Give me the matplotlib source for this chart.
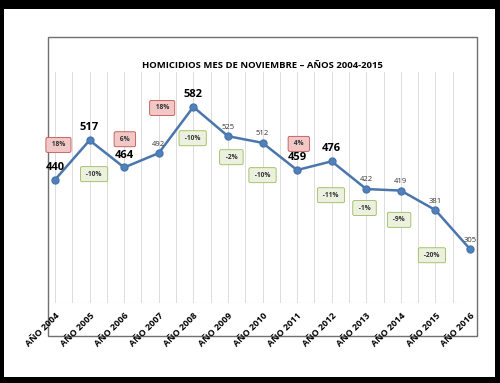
import matplotlib
matplotlib.use("Agg")
import matplotlib.pyplot as plt
from matplotlib.patches import Rectangle

years = ["AÑO 2004", "AÑO 2005", "AÑO 2006", "AÑO 2007", "AÑO 2008", "AÑO 2009",
         "AÑO 2010", "AÑO 2011", "AÑO 2012", "AÑO 2013", "AÑO 2014", "AÑO 2015", "AÑO 2016"]
values = [440, 517, 464, 492, 582, 525, 512, 459, 476, 422, 419, 381, 305]
big_label = [True, True, True, False, True, False, False, True, True, False, False, False, False]
pct_labels = ["18%", "-10%", "6%", "18%", "-10%", "-2%", "-10%", "4%", "-11%", "-1%", "-9%", "-20%"]
pct_x = [0.1, 1.13, 2.02, 3.1, 3.98, 5.1, 6.0, 7.05, 7.98, 8.95, 9.95, 10.9]
pct_y = [508, 451, 519, 580, 521, 484, 449, 510, 410, 385, 362, 293]

plt.rcParams['font.family'] = ['Liberation Sans Narrow', 'Open Sans', 'DejaVu Sans']

W, H = 500, 383
fig = plt.figure(figsize=(W / 100, H / 100), dpi=100, facecolor="black")

# white page
fig.patches.append(Rectangle((4 / W, 1 - 377 / H), (495 - 4) / W, (377 - 9) / H,
                             transform=fig.transFigure, facecolor="white", edgecolor="none", zorder=0))
# chart border
fig.patches.append(Rectangle((48 / W, 1 - 336 / H), (477 - 48) / W, (336 - 37) / H,
                             transform=fig.transFigure, facecolor="white", edgecolor="#707070",
                             linewidth=1.0, zorder=1))

ax = fig.add_axes([55 / W, 1 - 303 / H, (470 - 55) / W, (303 - 72) / H])
ax.set_facecolor("none")
ax.set_zorder(2)
x = list(range(len(values)))
ax.set_xlim(0, len(values) - 1)
ax.set_ylim(200, 650)

for i in range(2 * (len(values) - 1) + 1):
    ax.axvline(i / 2, color="#dcdcdc", linewidth=0.7, zorder=0)
ax.axhline(200, color="#dcdcdc", linewidth=0.8, zorder=0)

ax.plot(x, values, color="#4a76ac", linewidth=1.8, marker="o", markersize=5,
        markerfacecolor="#4f81bd", markeredgecolor="#4a76ac", zorder=3, clip_on=False)

for xi, v, big in zip(x, values, big_label):
    if big:
        ax.annotate(str(v), (xi, v), xytext=(0, 5), textcoords="offset points",
                    ha="center", va="bottom", fontsize=8, fontweight="bold", color="black")
    else:
        ax.annotate(str(v), (xi, v), xytext=(0, 4), textcoords="offset points",
                    ha="center", va="bottom", fontsize=5.5, color="#333333")

for lbl, px, py in zip(pct_labels, pct_x, pct_y):
    neg = lbl.startswith("-")
    fc = "#ebf1de" if neg else "#f2c8c6"
    ec = "#9bbb59" if neg else "#c0504d"
    ax.text(px, py, " " + lbl + " ", ha="center", va="center", fontsize=4.8, fontweight="bold",
            color="#333333", zorder=4,
            bbox=dict(boxstyle="round,pad=0.6,rounding_size=0.25", facecolor=fc,
                      edgecolor=ec, linewidth=0.6))

ax.set_xticks(x)
ax.set_xticklabels(years, rotation=45, ha="right", va="top", rotation_mode="anchor",
                   fontsize=6.5, fontweight="bold")
ax.tick_params(axis="x", length=0, pad=6)
ax.set_yticks([])
for s in ax.spines.values():
    s.set_visible(False)

fig.text((150 + 375) / 2 / W, 1 - 65 / H, "HOMICIDIOS MES DE NOVIEMBRE – AÑOS 2004-2015",
         ha="center", va="center", fontsize=6.8, fontweight="bold", color="black")

fig.savefig("out.png", dpi=100, facecolor="black")
